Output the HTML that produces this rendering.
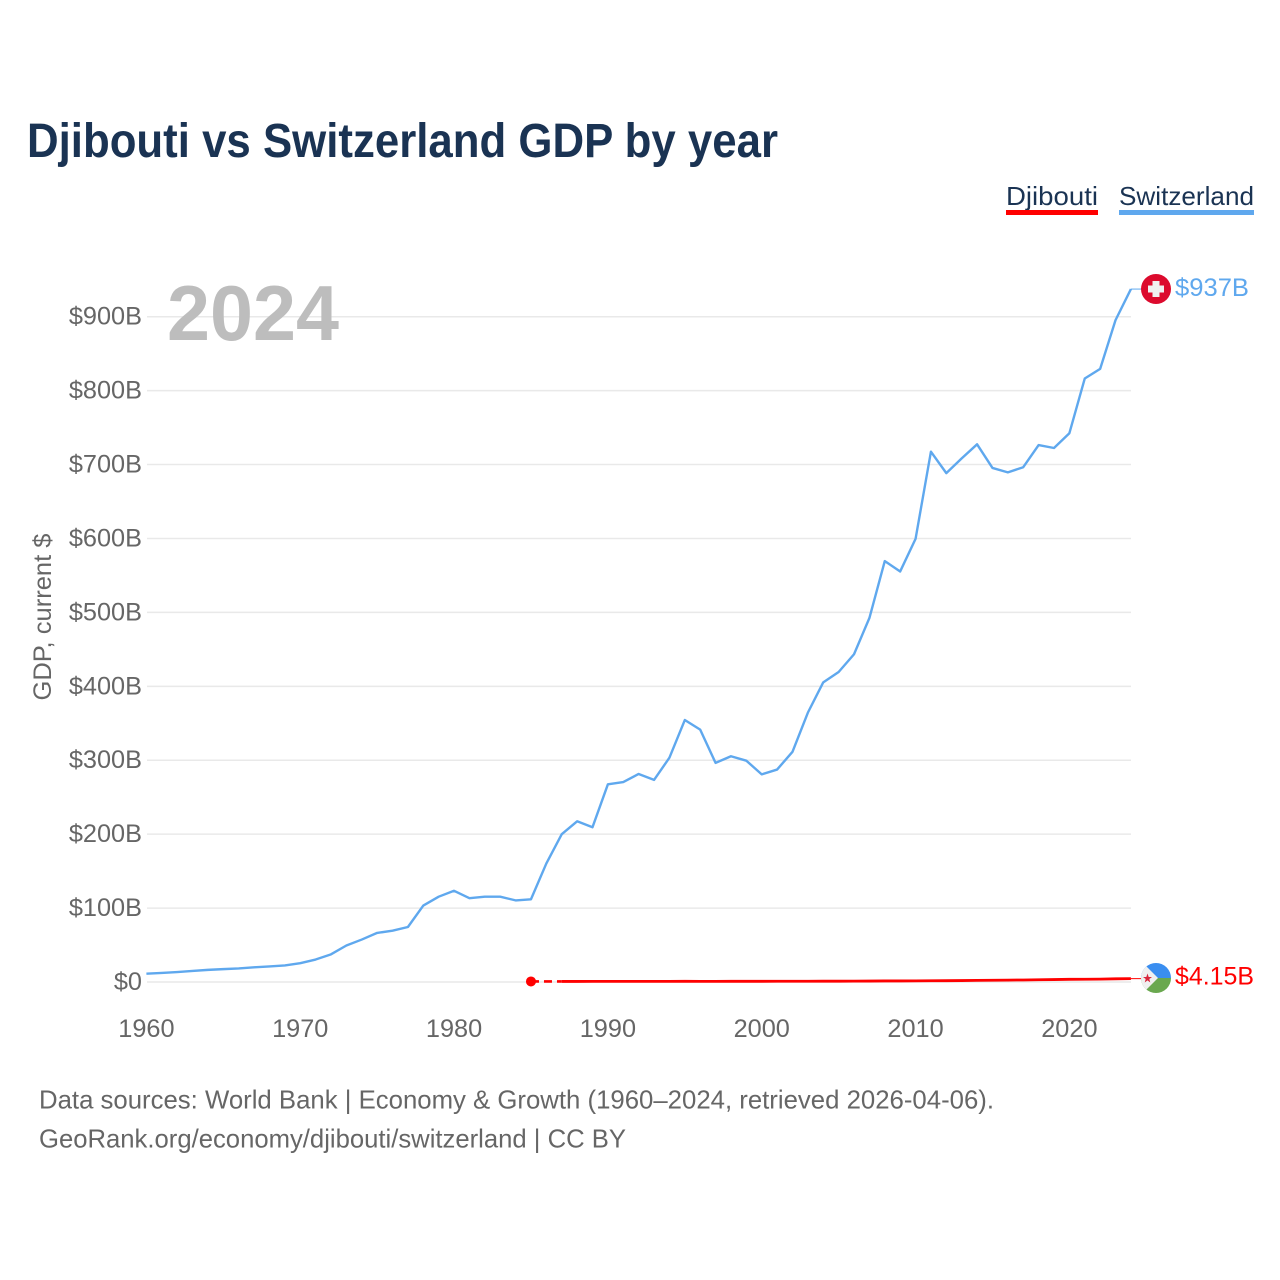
<!DOCTYPE html>
<html lang="en">
<head>
<meta charset="utf-8">
<title>Djibouti vs Switzerland GDP by year</title>
<style>
html,body{margin:0;padding:0;background:#fff;width:1280px;height:1280px;overflow:hidden}
svg{display:block;font-family:"Liberation Sans",sans-serif}
</style>
</head>
<body>
<svg id="chart" width="1280" height="1280" viewBox="0 0 1280 1280" xmlns="http://www.w3.org/2000/svg">
  <text x="27" y="157" font-size="48" font-weight="700" fill="#1a3353" textLength="751" lengthAdjust="spacingAndGlyphs">Djibouti vs Switzerland GDP by year</text>

  <g>
    <g>
      <text x="1006" y="205" font-size="26" fill="#1a3353" textLength="92" lengthAdjust="spacingAndGlyphs">Djibouti</text>
      <rect x="1006" y="210" width="92" height="5" fill="#ff0000"/>
    </g>
    <g>
      <text x="1119" y="205" font-size="26" fill="#1a3353" textLength="135" lengthAdjust="spacingAndGlyphs">Switzerland</text>
      <rect x="1119" y="210" width="135" height="5" fill="#5fa8ee"/>
    </g>
  </g>

  <g id="grid"></g>
  <g id="yticks"></g>
  <g id="xticks"></g>

  <text transform="translate(51,617) rotate(-90)" text-anchor="middle" font-size="25" fill="#666" textLength="167" lengthAdjust="spacingAndGlyphs">GDP, current $</text>
  <text x="167" y="340" font-size="78" font-weight="700" fill="#bdbdbd" textLength="172" lengthAdjust="spacingAndGlyphs">2024</text>

  <g id="series"></g>

  <g>
    <circle cx="1156" cy="289" r="15" fill="#dc0a2d"/>
    <rect x="1152.5" y="281" width="7" height="16" fill="#f0f0f0"/>
    <rect x="1148" y="285.5" width="16" height="7" fill="#f0f0f0"/>
  </g>
  <text id="label-swiss" x="1175" y="296" font-size="25" fill="#5fa8ee" textLength="74" lengthAdjust="spacingAndGlyphs"></text>

  <g>
    <clipPath id="dj-clip"><circle cx="1156" cy="978" r="15"/></clipPath>
    <g clip-path="url(#dj-clip)">
      <rect x="1140" y="962" width="32" height="16" fill="#3a8ef0"/>
      <rect x="1140" y="978" width="32" height="17" fill="#6aa84f"/>
      <polygon points="1140,960 1158,978 1140,996" fill="#f0f0f0"/>
    </g>
    <polygon points="1147.5,973.5 1148.7,977 1152,977 1149.3,979 1150.3,982.5 1147.5,980.4 1144.7,982.5 1145.7,979 1143,977 1146.3,977" fill="#d8263c"/>
  </g>
  <text id="label-dj" x="1175" y="984.5" font-size="25" fill="#ff0000" textLength="79" lengthAdjust="spacingAndGlyphs"></text>

  <text x="39" y="1108.5" font-size="26" fill="#666" textLength="955" lengthAdjust="spacingAndGlyphs">Data sources: World Bank | Economy &amp; Growth (1960–2024, retrieved 2026-04-06).</text>
  <text x="39" y="1147.5" font-size="26" fill="#666" textLength="587" lengthAdjust="spacingAndGlyphs">GeoRank.org/economy/djibouti/switzerland | CC BY</text>
</svg>

<script>
const xTickYears = [1960, 1970, 1980, 1990, 2000, 2010, 2020];
const yTickValues = [0, 100, 200, 300, 400, 500, 600, 700, 800, 900];
const yTickLabels = ['$0', '$100B', '$200B', '$300B', '$400B', '$500B', '$600B', '$700B', '$800B', '$900B'];
const firstYear = 1960;
const switzerlandGdp = [10.8, 11.9, 13, 14.5, 16, 17, 18, 19.5, 20.7, 22, 25, 30, 37, 49, 57, 66, 69, 74, 103, 115, 123, 113, 115, 115, 110, 111.5, 160, 199.5, 217, 209, 267, 270, 281, 273, 303, 354, 341, 296, 305, 299, 280.5, 287, 311, 364, 405, 419, 443, 492, 569, 555, 599, 717, 688, 708, 727, 695, 689, 696, 726, 722, 742, 816, 829, 895, 937];
const djiboutiGdp = [null, null, null, null, null, null, null, null, null, null, null, null, null, null, null, null, null, null, null, null, null, null, null, null, null, 0.34, null, 0.35, 0.37, 0.39, 0.45, 0.46, 0.47, 0.47, 0.48, 0.5, 0.49, 0.49, 0.5, 0.52, 0.55, 0.57, 0.59, 0.62, 0.67, 0.71, 0.77, 0.85, 1.0, 1.05, 1.13, 1.24, 1.35, 1.55, 1.8, 1.95, 2.15, 2.35, 2.6, 2.9, 3.2, 3.35, 3.5, 3.9, 4.15];
const switzerlandLabel = '$937B';
const djiboutiLabel = '$4.15B';

const NS = 'http://www.w3.org/2000/svg';
const xScale = function (year) { return 146.4 + (year - 1960) * 15.383; };
const yScale = function (value) { return 981.7 - value * 0.7392; };
const create = function (tag, parent, attrs) {
  const el = document.createElementNS(NS, tag);
  Object.keys(attrs).forEach(function (k) { el.setAttribute(k, attrs[k]); });
  parent.appendChild(el);
  return el;
};

const gridG = document.getElementById('grid');
const yG = document.getElementById('yticks');
yTickValues.forEach(function (v, i) {
  const line = create('line', gridG, { x1: 147, x2: 1131, y1: yScale(v) + 0.3, y2: yScale(v) + 0.3, stroke: '#e9e9e9', 'stroke-width': 1.5 });
  
  
  const t = create('text', yG, { x: 142, y: yScale(v) + 8.3, 'text-anchor': 'end', 'font-size': 25.3, fill: '#666' });
  t.textContent = yTickLabels[i];
  
  
});

const xG = document.getElementById('xticks');
xTickYears.forEach(function (y) {
  const t = create('text', xG, { x: xScale(y), y: 1037, 'text-anchor': 'middle', 'font-size': 25.3, fill: '#666' });
  t.textContent = String(y);
  
  
});

const seriesG = document.getElementById('series');
const pointsFor = function (values) {
  const pts = [];
  values.forEach(function (v, i) {
    if (v !== null) pts.push([xScale(firstYear + i), yScale(v)]);
  });
  return pts;
};

const swissPts = pointsFor(switzerlandGdp);
const swissLast = swissPts[swissPts.length - 1];
const swissLine = create('polyline', seriesG, { points: swissPts.map(function (p) { return p.join(','); }).join(' '), fill: 'none', stroke: '#5fa8ee', 'stroke-width': 2.4, 'stroke-linejoin': 'round' });


const swissConn = create('line', seriesG, { x1: swissLast[0], y1: swissLast[1], x2: 1142, y2: swissLast[1], stroke: '#5fa8ee', 'stroke-width': 1 });



const djPts = pointsFor(djiboutiGdp);
const djLast = djPts[djPts.length - 1];
const djDash = create('line', seriesG, { x1: djPts[0][0], y1: djPts[0][1], x2: djPts[1][0], y2: djPts[1][1], stroke: '#ff0000', 'stroke-width': 2.6, 'stroke-dasharray': '8 5' });


const djLine = create('polyline', seriesG, { points: djPts.slice(1).map(function (p) { return p.join(','); }).join(' '), fill: 'none', stroke: '#ff0000', 'stroke-width': 2.8, 'stroke-linejoin': 'round' });


const djDot = create('circle', seriesG, { cx: djPts[0][0], cy: djPts[0][1], r: 5, fill: '#ff0000' });


const djConn = create('line', seriesG, { x1: djLast[0], y1: djLast[1], x2: 1141, y2: djLast[1], stroke: '#ff0000', 'stroke-width': 1 });



document.getElementById('label-swiss').textContent = switzerlandLabel;
document.getElementById('label-dj').textContent = djiboutiLabel;
</script>
</body>
</html>
